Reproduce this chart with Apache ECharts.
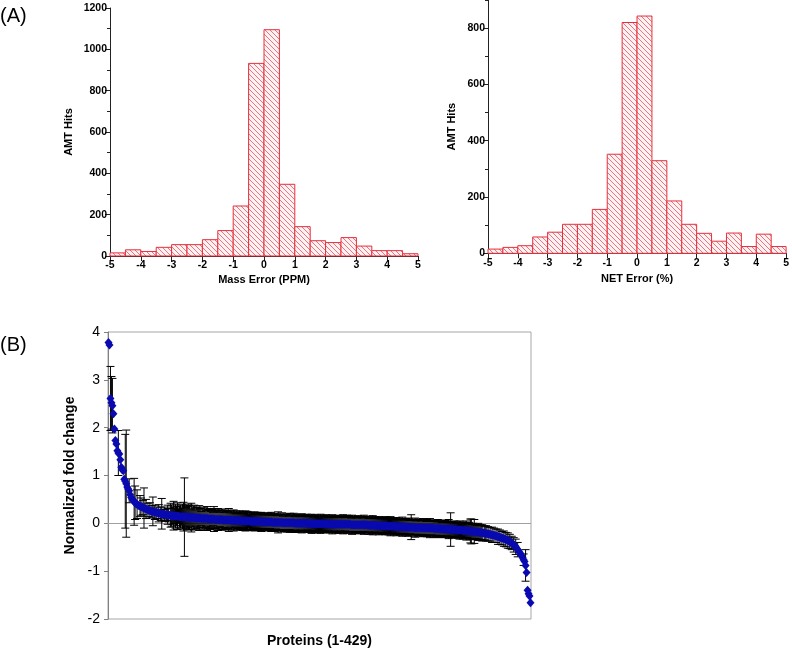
<!DOCTYPE html>
<html><head><meta charset="utf-8">
<script src="https://cdn.jsdelivr.net/npm/echarts@6/dist/echarts.min.js"></script>
<style>html,body{margin:0;padding:0;background:#fff}#c{width:792px;height:650px}</style>
</head><body><div id="c"></div>
<script>
// ---- Data ----
const binEdges = [-5,-4.5,-4,-3.5,-3,-2.5,-2,-1.5,-1,-0.5,0,0.5,1,1.5,2,2.5,3,3.5,4,4.5,5];
const massErrorHits = [15,30,22,42,55,55,79,123,242,932,1095,347,142,74,65,89,48,26,26,11];
const netErrorHits = [15,21,27,58,75,103,103,156,352,820,843,329,186,103,71,43,72,24,68,24];
const netMajorTicks = [0,200,400,600,800];
const netMinorTicks = [100,300,500,700,900];
const proteinLabel = 'Proteins (1-429)';
const foldChange = [
3.78,3.73,2.61,2.52,2.46,2.29,1.97,1.73,1.66,1.52,1.47,1.45,1.33,1.17,1.12,1.10,0.92,0.88,0.83,0.76,
0.72,0.68,0.60,0.54,0.51,0.48,0.45,0.43,0.41,0.40,0.38,0.37,0.36,0.35,0.34,0.33,0.32,0.31,0.30,0.29,
0.28,0.27,0.27,0.26,0.25,0.25,0.24,0.23,0.23,0.22,0.22,0.21,0.21,0.20,0.20,0.19,0.19,0.19,0.18,0.18,
0.18,0.17,0.17,0.17,0.16,0.16,0.16,0.16,0.15,0.15,0.15,0.15,0.14,0.14,0.14,0.14,0.14,0.13,0.13,0.13,
0.13,0.13,0.12,0.12,0.12,0.12,0.12,0.12,0.11,0.11,0.11,0.11,0.11,0.11,0.10,0.10,0.10,0.10,0.10,0.10,
0.10,0.09,0.09,0.09,0.09,0.09,0.09,0.09,0.08,0.08,0.08,0.08,0.08,0.08,0.08,0.08,0.07,0.07,0.07,0.07,
0.07,0.07,0.07,0.07,0.07,0.06,0.06,0.06,0.06,0.06,0.06,0.06,0.06,0.06,0.05,0.05,0.05,0.05,0.05,0.05,
0.05,0.05,0.05,0.05,0.04,0.04,0.04,0.04,0.04,0.04,0.04,0.04,0.04,0.04,0.04,0.03,0.03,0.03,0.03,0.03,
0.03,0.03,0.03,0.03,0.03,0.03,0.02,0.02,0.02,0.02,0.02,0.02,0.02,0.02,0.02,0.02,0.02,0.01,0.01,0.01,
0.01,0.01,0.01,0.01,0.01,0.01,0.01,0.01,0.01,0.00,0.00,0.00,0.00,0.00,0.00,0.00,0.00,0.00,0.00,0.00,
0.00,0.00,0.00,0.00,0.00,-0.01,-0.01,-0.01,-0.01,-0.01,-0.01,-0.01,-0.01,-0.01,-0.01,-0.01,-0.01,-0.01,-0.01,-0.01,
-0.01,-0.01,-0.01,-0.02,-0.02,-0.02,-0.02,-0.02,-0.02,-0.02,-0.02,-0.02,-0.02,-0.02,-0.02,-0.02,-0.02,-0.02,-0.02,-0.02,
-0.02,-0.02,-0.02,-0.02,-0.02,-0.02,-0.03,-0.03,-0.03,-0.03,-0.03,-0.03,-0.03,-0.03,-0.03,-0.03,-0.03,-0.03,-0.03,-0.03,
-0.03,-0.03,-0.03,-0.04,-0.04,-0.04,-0.04,-0.04,-0.04,-0.04,-0.04,-0.04,-0.04,-0.05,-0.05,-0.05,-0.05,-0.05,-0.05,-0.05,
-0.05,-0.05,-0.05,-0.06,-0.06,-0.06,-0.06,-0.06,-0.06,-0.06,-0.06,-0.06,-0.07,-0.07,-0.07,-0.07,-0.07,-0.07,-0.07,-0.07,
-0.07,-0.08,-0.08,-0.08,-0.08,-0.08,-0.08,-0.08,-0.08,-0.08,-0.09,-0.09,-0.09,-0.09,-0.09,-0.09,-0.09,-0.09,-0.09,-0.09,
-0.09,-0.10,-0.10,-0.10,-0.10,-0.10,-0.10,-0.10,-0.10,-0.10,-0.11,-0.11,-0.11,-0.11,-0.11,-0.11,-0.11,-0.11,-0.12,-0.12,
-0.12,-0.12,-0.12,-0.12,-0.12,-0.12,-0.13,-0.13,-0.13,-0.13,-0.13,-0.13,-0.13,-0.14,-0.14,-0.14,-0.14,-0.14,-0.14,-0.15,
-0.15,-0.15,-0.15,-0.15,-0.16,-0.16,-0.16,-0.16,-0.17,-0.17,-0.17,-0.17,-0.18,-0.18,-0.18,-0.18,-0.19,-0.19,-0.19,-0.20,
-0.20,-0.20,-0.21,-0.21,-0.22,-0.22,-0.23,-0.23,-0.24,-0.24,-0.25,-0.25,-0.26,-0.26,-0.27,-0.28,-0.28,-0.29,-0.30,-0.31,
-0.31,-0.32,-0.33,-0.34,-0.35,-0.36,-0.37,-0.38,-0.40,-0.41,-0.43,-0.45,-0.47,-0.49,-0.52,-0.55,-0.58,-0.61,-0.64,-0.68,
-0.72,-0.76,-0.80,-0.88,-1.03,-1.40,-1.47,-1.52,-1.66
];
const foldError = [
0,0,0.67,0.55,0.57,0,0,0,0,0,0.47,0,0,0,0,0,0,0.98,1.12,0,
0,0.25,0,0,0,0,0.49,0.35,0,0.3,0,0,0.22,0.18,0,0.15,0.42,0,0.2,0,
0.14,0,0.16,0,0.12,0.3,0,0.15,0,0.12,0,0.18,0,0.14,0.32,0,0.1,0.15,0,0.12,
0.2,0.14,0,0.25,0.22,0.18,0.3,0.16,0.25,0.2,0.28,0.15,0.22,0.24,0.18,0.26,0.3,0.82,0.2,0.24,
0.22,0.27,0.25,0.18,0.3,0.2,0.24,0.26,0.17,0.22,0.23,0.19,0.26,0.2,0.15,0.22,0.18,0.24,0.2,0.16,
0.25,0.2,0.18,0.22,0.16,0.2,0.14,0.26,0.19,0.2,0.17,0.23,0.2,0.15,0.18,0.22,0.2,0.16,0.21,0.18,
0.2,0.17,0.24,0.15,0.19,0.2,0.16,0.22,0.18,0.14,0.2,0.17,0.15,0.2,0.18,0.16,0.2,0.15,0.19,0.21,
0.17,0.2,0.14,0.18,0.16,0.19,0.15,0.18,0.2,0.16,0.14,0.19,0.17,0.15,0.18,0.2,0.16,0.14,0.18,0.17,
0.15,0.19,0.16,0.18,0.14,0.2,0.15,0.17,0.19,0.16,0.14,0.18,0.22,0.15,0.17,0.16,0.2,0.14,0.18,0.15,
0.17,0.19,0.16,0.14,0.2,0.15,0.18,0.16,0.2,0.14,0.17,0.19,0.15,0.18,0.16,0.14,0.2,0.17,0.15,0.18,
0.16,0.19,0.14,0.17,0.15,0.18,0.2,0.16,0.14,0.17,0.19,0.15,0.16,0.18,0.14,0.2,0.16,0.15,0.18,0.17,
0.15,0.19,0.16,0.14,0.18,0.17,0.15,0.2,0.16,0.14,0.18,0.15,0.17,0.19,0.16,0.14,0.18,0.15,0.2,0.16,
0.14,0.17,0.19,0.15,0.18,0.16,0.14,0.2,0.15,0.17,0.18,0.16,0.14,0.19,0.15,0.17,0.16,0.18,0.14,0.2,
0.15,0.17,0.16,0.18,0.14,0.19,0.15,0.17,0.2,0.16,0.14,0.18,0.16,0.15,0.19,0.17,0.14,0.18,0.16,0.15,
0.17,0.19,0.14,0.16,0.18,0.15,0.2,0.16,0.14,0.18,0.17,0.15,0.19,0.16,0.14,0.18,0.16,0.15,0.2,0.17,
0.14,0.16,0.18,0.15,0.19,0.17,0.14,0.26,0.16,0.15,0.18,0.2,0.14,0.16,0.17,0.15,0.18,0.14,0.16,0.19,
0.15,0.17,0.14,0.18,0.16,0.15,0.2,0.17,0.14,0.16,0.18,0.15,0.17,0.14,0.19,0.16,0.15,0.18,0.14,0.16,
0.17,0.15,0.18,0.14,0.16,0.2,0.15,0.35,0.17,0.14,0.16,0.18,0.15,0.14,0.17,0.16,0.19,0.15,0.14,0.18,
0.16,0.15,0.17,0.2,0.14,0.16,0.18,0.25,0.26,0.15,0.17,0.25,0.14,0.16,0.15,0.18,0.14,0.16,0.15,0.17,
0,0.15,0.14,0.16,0,0.15,0,0.14,0,0.16,0,0.15,0,0.14,0,0.16,0,0.15,0,0.14,
0,0.16,0,0.15,0,0.16,0,0.15,0,0.14,0,0.15,0,0.16,0,0.15,0,0,0,0,
0,0.12,0,0.33,0,0,0,0,0
];

// ---- Styles ----
const FONT = 'Liberation Sans, Arial, Helvetica, sans-serif';
function makeHatch(){
  const c = document.createElement('canvas'); c.width = 5; c.height = 5;
  const g = c.getContext('2d');
  g.fillStyle = '#fff2f3'; g.fillRect(0,0,5,5);
  g.strokeStyle = '#ec6470'; g.lineWidth = 0.9;
  g.beginPath();
  g.moveTo(-1,-1); g.lineTo(6,6);
  g.moveTo(-1,4); g.lineTo(1,6);
  g.moveTo(4,-1); g.lineTo(6,1);
  g.stroke();
  return c;
}
const hatch = {image: makeHatch(), repeat: 'repeat'};

function histItem(params, api){
  const x0 = api.value(0), x1 = api.value(1), y = api.value(2);
  const p0 = api.coord([x0, y]), p1 = api.coord([x1, 0]);
  return {type:'rect', shape:{x:p0[0], y:p0[1], width:p1[0]-p0[0], height:p1[1]-p0[1]},
    style:{fill:hatch, stroke:'#e4303c', lineWidth:1}};
}
function errItem(params, api){
  const x = api.value(0), lo = api.value(1), hi = api.value(2);
  const a = api.coord([x, hi]), b = api.coord([x, lo]);
  const w = 4, st = {stroke:'#000', lineWidth:1};
  return {type:'group', children:[
    {type:'line', shape:{x1:a[0], y1:a[1], x2:b[0], y2:b[1]}, style:st},
    {type:'line', shape:{x1:a[0]-w, y1:a[1], x2:a[0]+w, y2:a[1]}, style:st},
    {type:'line', shape:{x1:b[0]-w, y1:b[1], x2:b[0]+w, y2:b[1]}, style:st}
  ]};
}

const plain = v => String(v);
const labelStyle = {fontSize:10.5, fontWeight:'bold', color:'#000', fontFamily:FONT};
const histX = (gi, name, gap) => ({
  gridIndex: gi, type:'value', min:-5, max:5, interval:1,
  axisLine:{show:true, onZero:false, lineStyle:{color:'#222', width:1}},
  axisTick:{show:true, length:5, lineStyle:{color:'#222'}},
  splitLine:{show:false},
  axisLabel:Object.assign({margin:4, formatter:plain}, labelStyle),
  name:name, nameLocation:'middle', nameGap:gap,
  nameTextStyle:{fontSize:11, fontWeight:'bold', color:'#000', fontFamily:FONT}
});

const chart = echarts.init(document.getElementById('c'), null, {renderer:'canvas'});
chart.setOption({
  animation:false,
  backgroundColor:'#fff',
  graphic:[
    {type:'text', left:0, top:6, style:{text:'(A)', fontSize:20, fontFamily:FONT, fill:'#000'}},
    {type:'text', left:0, top:335, style:{text:'(B)', fontSize:20, fontFamily:FONT, fill:'#000'}}
  ],
  grid:[
    {left:110, top:8, width:308, height:248},
    {left:488, top:0, width:301, height:253.3},
    {left:108, top:332, width:423, height:287, show:true, borderColor:'#a6a6a6', borderWidth:1, backgroundColor:'transparent'}
  ],
  xAxis:[
    histX(0, 'Mass Error (PPM)', 18),
    histX(1, 'NET Error (%)', 20),
    {gridIndex:2, type:'value', min:0.5, max:429.5,
     axisLine:{show:false}, axisTick:{show:false}, axisLabel:{show:false}, splitLine:{show:false},
     name:proteinLabel, nameLocation:'middle', nameGap:15,
     nameTextStyle:{fontSize:14, fontWeight:'bold', color:'#000', fontFamily:FONT}}
  ],
  yAxis:[
    {gridIndex:0, type:'value', min:0, max:1200, interval:200,
     axisLine:{show:true, onZero:false, lineStyle:{color:'#222', width:1}},
     axisTick:{show:true, length:5, lineStyle:{color:'#222'}},
     minorTick:{show:true, splitNumber:2, length:3, lineStyle:{color:'#222'}},
     splitLine:{show:false}, minorSplitLine:{show:false},
     axisLabel:Object.assign({margin:3, formatter:plain}, labelStyle),
     name:'AMT Hits', nameLocation:'middle', nameGap:36,
     nameTextStyle:{fontSize:11, fontWeight:'bold', color:'#000', fontFamily:FONT}},
    {gridIndex:1, type:'value', min:0, max:900,
     axisLine:{show:true, onZero:false, lineStyle:{color:'#222', width:1}},
     axisTick:{show:true, length:5, customValues:netMajorTicks, lineStyle:{color:'#222'}},
     splitLine:{show:false},
     axisLabel:Object.assign({margin:3, formatter:plain, customValues:netMajorTicks}, labelStyle),
     name:'AMT Hits', nameLocation:'middle', nameGap:31,
     nameTextStyle:{fontSize:11, fontWeight:'bold', color:'#000', fontFamily:FONT}},
    {gridIndex:2, type:'value', min:-2, max:4, interval:1,
     axisLine:{show:true, onZero:false, lineStyle:{color:'#808080', width:1}},
     axisTick:{show:true, length:4, lineStyle:{color:'#808080'}},
     splitLine:{show:false},
     axisLabel:{fontSize:14, color:'#000', fontFamily:FONT, margin:8},
     name:'Normalized fold change', nameLocation:'middle', nameGap:26,
     nameTextStyle:{fontSize:14, fontWeight:'bold', color:'#000', fontFamily:FONT}},
    {gridIndex:1, type:'value', min:0, max:900, position:'left',
     axisLine:{show:false, onZero:false},
     axisTick:{show:true, length:3, customValues:netMinorTicks, lineStyle:{color:'#222'}},
     axisLabel:{show:false}, splitLine:{show:false}}
  ],
  series:[
    {type:'custom', xAxisIndex:0, yAxisIndex:0, renderItem:histItem, encode:{x:[0,1], y:2},
     data: massErrorHits.map((h,i)=>[binEdges[i], binEdges[i+1], h])},
    {type:'custom', xAxisIndex:1, yAxisIndex:1, renderItem:histItem, encode:{x:[0,1], y:2},
     data: netErrorHits.map((h,i)=>[binEdges[i], binEdges[i+1], h])},
    {type:'custom', xAxisIndex:2, yAxisIndex:2, renderItem:errItem, encode:{x:0, y:[1,2]}, z:2,
     data: foldChange.map((v,i)=>[i+1, v-foldError[i], v+foldError[i], foldError[i]]).filter(d=>d[3]>0)},
    {type:'scatter', xAxisIndex:2, yAxisIndex:2, z:3, symbol:'diamond', symbolSize:[8,9],
     itemStyle:{color:'#0a0ab0', opacity:1},
     data: foldChange.map((v,i)=>[i+1, v]),
     markLine:{silent:true, symbol:'none', label:{show:false}, z:1,
       lineStyle:{color:'#a0a0a0', type:'solid', width:1}, data:[{yAxis:0}]}}
  ]
});
</script></body></html>
